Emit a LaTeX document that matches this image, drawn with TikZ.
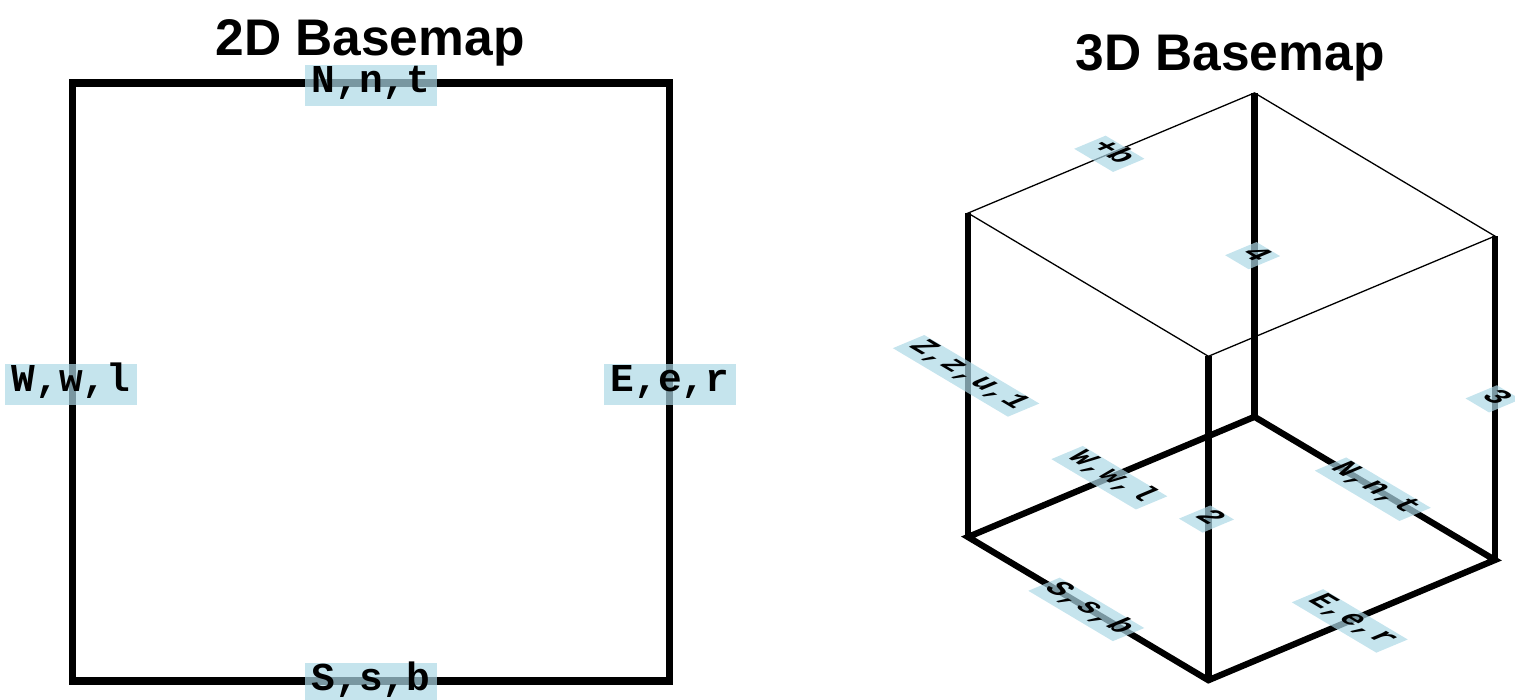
\documentclass[tikz,border=0pt]{standalone}
\usepackage{fontspec}
\setmainfont{Liberation Sans}
\newfontfamily\labfont{Liberation Mono}
\definecolor{lightblue}{RGB}{173,216,230}
\begin{document}
\begin{tikzpicture}[x=1pt,y=-1pt,
  lab/.style={fill=lightblue, fill opacity=0.7, text opacity=1, inner xsep=6.5pt, inner ysep=0pt,
    text height=27pt, text depth=14pt, font=\labfont\bfseries\fontsize{39.5}{39.5}\selectfont},
  title/.style={anchor=base, inner sep=0pt, font=\bfseries\fontsize{51.5}{60}\selectfont},
  frametwo/.style={line width=7.8pt, line join=miter},
  thickthree/.style={line width=6.3pt, line join=miter},
  thinthree/.style={line width=1.3pt, line join=miter},
  proj/.style={cm={0.643,-0.383,0.766,0.321,(0,0)}}]
\useasboundingbox (0,0) rectangle (1515,699);
% ---------- 2D basemap ----------
\node[title] (t2) at (370,55) {2D Basemap};
\coordinate (a1) at (72.5,83);
\coordinate (a2) at (669.5,83);
\coordinate (a3) at (669.5,681);
\coordinate (a4) at (72.5,681);
\draw[frametwo] (a1) -- (a2) -- (a3) -- (a4) -- cycle;
\node[lab] (n2) at (371,85.5) {N,n,t};
\node[lab] (s2) at (371,683.5) {S,s,b};
\node[lab] (w2) at (71,384.5) {W,w,l};
\node[lab] (e2) at (670,384.5) {E,e,r};
% ---------- 3D basemap ----------
\node[title] (t3) at (1230,70) {3D Basemap};
\coordinate (swb) at (968,537);
\coordinate (seb) at (1208.4,680.2);
\coordinate (neb) at (1494.9,560);
\coordinate (nwb) at (1254.5,416.8);
\coordinate (swt) at (968,213.1);
\coordinate (set) at (1208.4,356.3);
\coordinate (net) at (1494.9,236.1);
\coordinate (nwt) at (1254.5,92.9);
\draw[thinthree] (swt) -- (set) -- (net) -- (nwt) -- cycle;
\draw[thickthree] (swb) -- (seb) -- (neb) -- (nwb) -- cycle;
\draw[thickthree] (swb) -- (swt);
\draw[thickthree] (seb) -- (set);
\draw[thickthree] (neb) -- (net);
\draw[thickthree] (nwb) -- (nwt);
\begin{scope}[shift={(1088.2,608.6)}, proj]
  \node[lab, transform shape] (s3) at (0,2.5) {S,s,b};
\end{scope}
\begin{scope}[shift={(1351.65,620.1)}, proj]
  \node[lab, transform shape] (e3) at (0,2.5) {E,e,r};
\end{scope}
\begin{scope}[shift={(1374.7,488.4)}, proj]
  \node[lab, transform shape] (n3) at (0,2.5) {N,n,t};
\end{scope}
\begin{scope}[shift={(1111.25,476.9)}, proj]
  \node[lab, transform shape] (w3) at (0,2.5) {W,w,l};
\end{scope}
\begin{scope}[shift={(968,375.05)}, proj]
  \node[lab, transform shape] (z3) at (0,2.5) {Z,z,u,1};
\end{scope}
\begin{scope}[shift={(1254.5,254.85)}, proj]
  \node[lab, transform shape] (c4) at (0,2.5) {4};
\end{scope}
\begin{scope}[shift={(1494.9,398.05)}, proj]
  \node[lab, transform shape] (c3) at (0,2.5) {3};
\end{scope}
\begin{scope}[shift={(1208.4,518.25)}, proj]
  \node[lab, transform shape] (c2) at (0,2.5) {2};
\end{scope}
\begin{scope}[shift={(1111.25,153)}, proj]
  \node[lab, transform shape] (pb) at (0,2.5) {+b};
\end{scope}
\end{tikzpicture}
\end{document}
